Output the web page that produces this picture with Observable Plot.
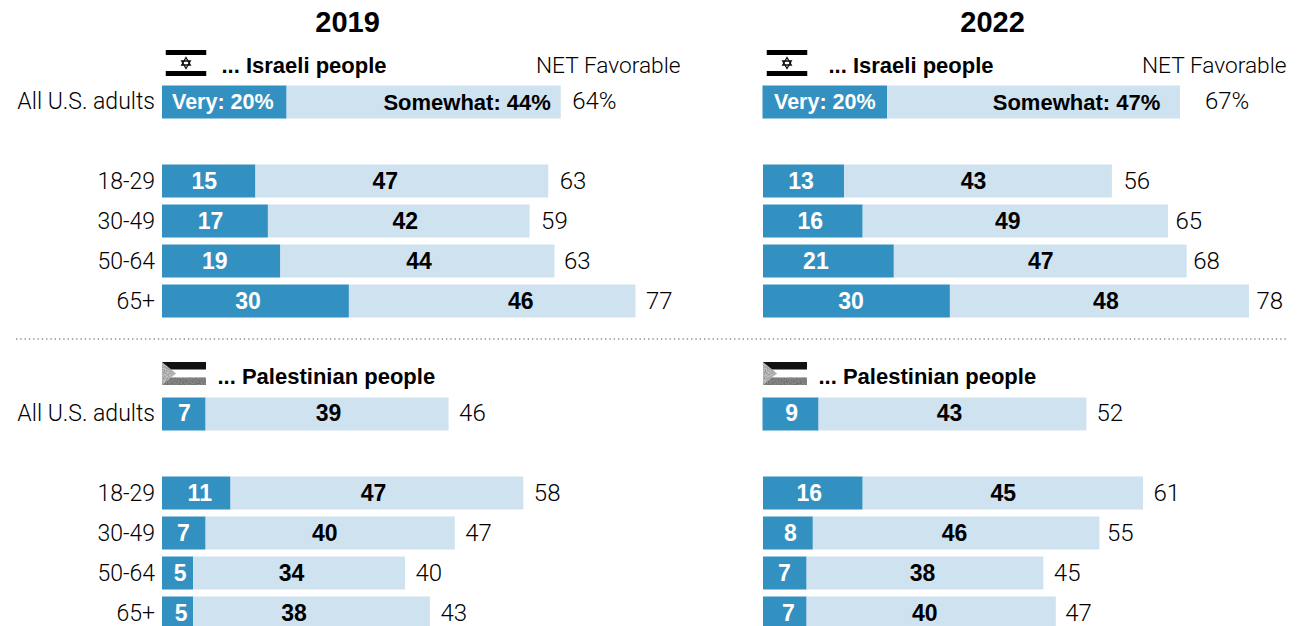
<!DOCTYPE html>
<html>
<head>
<meta charset="utf-8">
<script src="https://cdn.jsdelivr.net/npm/d3@7"></script>
<script src="https://cdn.jsdelivr.net/npm/@observablehq/plot@0.6"></script>
<style>
  html, body { margin: 0; padding: 0; background: #fff; }
  #chart { width: 1298px; height: 626px; overflow: hidden; }
  svg { display: block; }
</style>
</head>
<body>
<div id="chart"></div>
<script>
// Favorable views of the Israeli and Palestinian people, by age, 2019 and 2022.
const years = [2019, 2022];
const groups = ["Israeli", "Palestinian"];
const rowNames = ["All U.S. adults", "18-29", "30-49", "50-64", "65+"];

const israeliVery2019 = [20, 15, 17, 19, 30];
const israeliSomewhat2019 = [44, 47, 42, 44, 46];
const israeliNet2019 = [64, 63, 59, 63, 77];
const palestinianVery2019 = [7, 11, 7, 5, 5];
const palestinianSomewhat2019 = [39, 47, 40, 34, 38];
const palestinianNet2019 = [46, 58, 47, 40, 43];

const israeliVery2022 = [20, 13, 16, 21, 30];
const israeliSomewhat2022 = [47, 43, 49, 47, 48];
const israeliNet2022 = [67, 56, 65, 68, 78];
const palestinianVery2022 = [9, 16, 8, 7, 7];
const palestinianSomewhat2022 = [43, 45, 46, 38, 40];
const palestinianNet2022 = [52, 61, 55, 45, 47];

const series = [
  [2019, "Israeli", israeliVery2019, israeliSomewhat2019, israeliNet2019],
  [2019, "Palestinian", palestinianVery2019, palestinianSomewhat2019, palestinianNet2019],
  [2022, "Israeli", israeliVery2022, israeliSomewhat2022, israeliNet2022],
  [2022, "Palestinian", palestinianVery2022, palestinianSomewhat2022, palestinianNet2022]
];

// Hand placement of the labels, in pixels from the centre of each segment
// (or from the end of the bar for the NET column).
const veryShift = {
  "2019Israeli": [-2, -5, -5, -7, -8], "2019Palestinian": [0, 3, -1, 2, 3],
  "2022Israeli": [-1, -3, -3, -13, -6], "2022Palestinian": [0, -4, 2, -1, 3]
};
const somewhatShift = {
  "2019Israeli": [43, -17, 6, 1, 28], "2019Palestinian": [1, -4, -6, -8, -18],
  "2022Israeli": [42, -5, -8, 0, 6], "2022Palestinian": [-4, 0, -2, -3, -7]
};
const netShift = {
  "2019Israeli": [11, 11, 11, 9, 10], "2019Palestinian": [10, 10, 10, 10, 10],
  "2022Israeli": [24, 11, 7, 6, 7], "2022Palestinian": [9, 10, 7, 10, 9]
};

const pxPerPoint = 6.23;
const panelWidth = 500;
const panelStep = 601;
const yRows = ["header", rowNames[0], "gap", ...rowNames.slice(1)];

// Long table built from the arrays above.
const segments = [];
const rows = [];
for (const [year, group, very, somewhat, net] of series) {
  const key = year + group;
  rowNames.forEach((row, i) => {
    segments.push({year, group, row, level: "Very", value: very[i]});
    segments.push({year, group, row, level: "Somewhat", value: somewhat[i]});
    rows.push({
      year, group, row, i,
      very: very[i], somewhat: somewhat[i], net: net[i],
      veryX: (very[i] / 2) + veryShift[key][i] / pxPerPoint,
      somewhatX: very[i] + somewhat[i] / 2 + somewhatShift[key][i] / pxPerPoint,
      netX: very[i] + somewhat[i] + netShift[key][i] / pxPerPoint
    });
  });
}
const headers = [
  {year: 2019, group: "Israeli", text: "... Israeli people", dx: 59, dy: 4},
  {year: 2019, group: "Palestinian", text: "... Palestinian people", dx: 55, dy: 3},
  {year: 2022, group: "Israeli", text: "... Israeli people", dx: 65, dy: 4},
  {year: 2022, group: "Palestinian", text: "... Palestinian people", dx: 55, dy: 3}
];

// Flag thumbnails as small inline SVG images.
const svgUri = s => "data:image/svg+xml," + encodeURIComponent(s);
const israelFlag = svgUri(`<svg xmlns="http://www.w3.org/2000/svg" viewBox="0 0 41 26">
  <rect width="41" height="26" fill="#fff"/>
  <rect width="41" height="5" fill="#000"/><rect y="21" width="41" height="5" fill="#000"/>
  <g fill="none" stroke="#111" stroke-width="1.3">
    <path d="M20.5 7.5l4.3 7.5h-8.6z"/><path d="M20.5 18.5l4.3-7.5h-8.6z"/>
  </g></svg>`);
const palestineFlag = svgUri(`<svg xmlns="http://www.w3.org/2000/svg" viewBox="0 0 44 23">
  <filter id="g" x="0" y="0" width="100%" height="100%">
    <feTurbulence type="fractalNoise" baseFrequency="0.9" numOctaves="2" seed="4"/>
    <feColorMatrix values="0 0 0 0 0  0 0 0 0 0  0 0 0 0 0  1.1 0 0 0 -0.35"/>
    <feComposite in2="SourceAlpha" operator="in"/>
    <feMerge><feMergeNode in="SourceGraphic"/><feMergeNode/></feMerge>
  </filter>
  <rect width="44" height="23" fill="#fff"/>
  <rect width="44" height="7.5" fill="#111"/>
  <rect y="15.5" width="44" height="7.5" fill="#8c8c8c" filter="url(#g)"/>
  <path d="M0 0L14 11.5L0 23z" fill="#c4c4c4" filter="url(#g)"/>
</svg>`);

const textFont = "Roboto, 'Liberation Sans', sans-serif";
const boldFont = "'Liberation Sans', Roboto, sans-serif";
const isAll = d => d.row === rowNames[0];
const isNotAll = d => d.row !== rowNames[0];
const isYear = y => d => d.year === y;

const barOpts = {x: "value", y: "row", fx: "year", fy: "group", fill: "level", order: null};

const chart = Plot.plot({
  width: 1298,
  height: 640,
  marginTop: 40.5,
  marginLeft: 162.4,
  marginRight: 34.6,
  marginBottom: 7.5,
  facet: {marginTop: 0, marginBottom: 0, marginLeft: 0, marginRight: 0},
  style: {background: "transparent", overflow: "visible"},
  fx: {domain: years, paddingInner: 1 - panelWidth / panelStep, paddingOuter: 0, axis: null, align: 0},
  fy: {domain: groups, paddingInner: 1 - 280 / 312, paddingOuter: 0, axis: null, align: 0},
  x: {domain: [0, panelWidth / pxPerPoint], axis: null},
  y: {domain: yRows, paddingInner: 0.175, paddingOuter: 0.0875, axis: null},
  color: {domain: ["Very", "Somewhat"], range: ["#3391c1", "#cfe2f0"]},
  marks: [
    // Stacked bars; the top row sits a pixel lower than the even row grid.
    Plot.barX(segments.filter(isNotAll), barOpts),
    Plot.barX(segments.filter(isAll).filter(isYear(2019)), {...barOpts, dy: 1}),
    Plot.barX(segments.filter(isAll).filter(isYear(2022)), {...barOpts, dy: 1, dx: -0.5}),

    // Year titles
    Plot.text([{year: 2019, group: "Israeli", row: "header", x: 185 / pxPerPoint},
               {year: 2022, group: "Israeli", row: "header", x: 229 / pxPerPoint}], {
      x: "x", y: "row", fx: "year", fy: "group", text: d => String(d.year), dy: -39,
      fontFamily: boldFont, fontWeight: 700, fontSize: 29, fill: "#000"
    }),

    // Dotted divider across both panels
    Plot.ruleY([{year: 2019, group: "Palestinian", row: "header"}], {
      y: "row", fx: "year", fy: "group", dy: -34.5,
      x1: -146 / pxPerPoint, x2: 1124 / pxPerPoint,
      stroke: "#8a8a8a", strokeWidth: 1.3, strokeDasharray: "1.3 3"
    }),

    // Flags
    Plot.image(headers.filter(d => d.group === "Israeli"), {
      x: () => 0, y: () => "header", fx: "year", fy: "group", src: () => israelFlag,
      width: 41, height: 26, dx: 23.5, dy: 1.5
    }),
    Plot.image(headers.filter(d => d.group === "Palestinian"), {
      x: () => 0, y: () => "header", fx: "year", fy: "group", src: () => palestineFlag,
      width: 44, height: 23, dx: 21.5, dy: 0
    }),

    // Section headers
    ...headers.map(h => Plot.text([h], {
      x: () => 0, y: () => "header", fx: "year", fy: "group", text: "text", dx: h.dx, dy: h.dy,
      textAnchor: "start", fontFamily: boldFont, fontWeight: 700, fontSize: 22, fill: "#000"
    })),
    Plot.text([{year: 2019, x: 518 / pxPerPoint}, {year: 2022, x: 523 / pxPerPoint}], {
      x: "x", y: () => "header", fx: "year", fy: () => "Israeli", text: () => "NET Favorable",
      dy: 4, textAnchor: "end", fontFamily: textFont, fontWeight: 300, fontSize: 22.7, fill: "#000"
    }),

    // Row names, left panel only
    Plot.text(rows.filter(isYear(2019)), {
      x: () => 0, y: "row", fx: "year", fy: "group", text: "row", dx: -7.5,
      textAnchor: "end", fontFamily: textFont, fontWeight: 300, fontSize: 23, fill: "#000"
    }),

    // Segment values
    Plot.text(rows.filter(isNotAll).concat(rows.filter(d => isAll(d) && d.group === "Palestinian")), {
      x: "veryX", y: "row", fx: "year", fy: "group", text: "very",
      fontFamily: boldFont, fontWeight: 700, fontSize: 23, fill: "#fff"
    }),
    Plot.text(rows.filter(isNotAll).concat(rows.filter(d => isAll(d) && d.group === "Palestinian")), {
      x: "somewhatX", y: "row", fx: "year", fy: "group", text: "somewhat",
      fontFamily: boldFont, fontWeight: 700, fontSize: 23, fill: "#000"
    }),
    Plot.text(rows.filter(d => isAll(d) && d.group === "Israeli"), {
      x: "veryX", y: "row", fx: "year", fy: "group", text: d => `Very: ${d.very}%`, dy: 1,
      fontFamily: boldFont, fontWeight: 700, fontSize: 21.5, fill: "#fff"
    }),
    Plot.text(rows.filter(d => isAll(d) && d.group === "Israeli"), {
      x: "somewhatX", y: "row", fx: "year", fy: "group", text: d => `Somewhat: ${d.somewhat}%`, dy: 1,
      fontFamily: boldFont, fontWeight: 700, fontSize: 22, fill: "#000"
    }),

    // NET column
    Plot.text(rows, {
      x: "netX", y: "row", fx: "year", fy: "group",
      text: d => d.net + (isAll(d) && d.group === "Israeli" ? "%" : ""),
      textAnchor: "start", fontFamily: textFont, fontWeight: 300, fontSize: 24, fill: "#000"
    })
  ]
});
document.getElementById("chart").append(chart);
</script>
</body>
</html>
